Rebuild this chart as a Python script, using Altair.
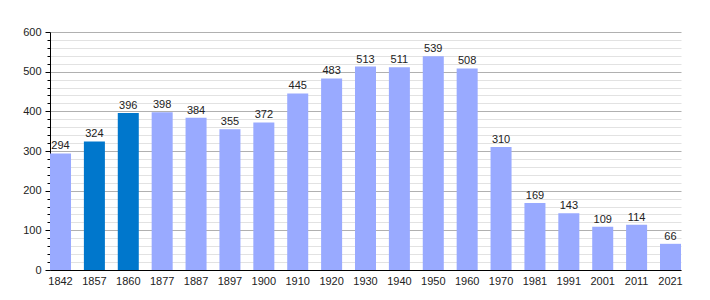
import altair as alt
import pandas as pd

years = ["1842", "1857", "1860", "1877", "1887", "1897", "1900", "1910", "1920", "1930",
         "1940", "1950", "1960", "1970", "1981", "1991", "2001", "2011", "2021"]
population = [294, 324, 396, 398, 384, 355, 372, 445, 483, 513,
              511, 539, 508, 310, 169, 143, 109, 114, 66]
highlight_years = ["1857", "1860"]
y_ticks = list(range(0, 601, 20))

df = pd.DataFrame({"year": years, "pop": population})
df["hl"] = df["year"].isin(highlight_years)

FONT = "Liberation Sans"

x = alt.X("year:N", sort=years, title=None,
          scale=alt.Scale(paddingInner=0.38, paddingOuter=0),
          axis=alt.Axis(labelAngle=0, ticks=False, domainColor="#000000", domainWidth=1.2,
                        labelFont=FONT, labelFontSize=11, labelColor="#222222",
                        labelPadding=5, grid=False))
y = alt.Y("pop:Q", title=None,
          scale=alt.Scale(domain=[0, 600], nice=False),
          axis=alt.Axis(values=y_ticks,
                        labelExpr="datum.value % 100 === 0 ? datum.label : ''",
                        grid=True,
                        gridColor=alt.condition("datum.value % 100 === 0", alt.value("#b0b0b0"), alt.value("#e2e2e2")),
                        tickSize=alt.condition("datum.value % 100 === 0", alt.value(5), alt.value(3)),
                        tickColor="#000000", domainColor="#000000",
                        labelFont=FONT, labelFontSize=11, labelColor="#222222",
                        labelPadding=4))

base = alt.Chart(df).encode(x=x, y=y)

bars = base.mark_bar().encode(
    color=alt.condition("datum.hl", alt.value("#0077cc"), alt.value("#99aaff")),
)
labels = base.mark_text(dy=-7, font=FONT, fontSize=11, color="#222222").encode(
    text="pop:Q",
)

chart = alt.layer(bars, labels).properties(
    width=631, height=238,
    background="#ffffff",
    autosize=alt.AutoSizeParams(type="none"),
    padding={"left": 50, "top": 32, "right": 29, "bottom": 30},
).configure_view(stroke=None)

chart.save("out.html", embed_options={"renderer": "svg", "actions": False})
